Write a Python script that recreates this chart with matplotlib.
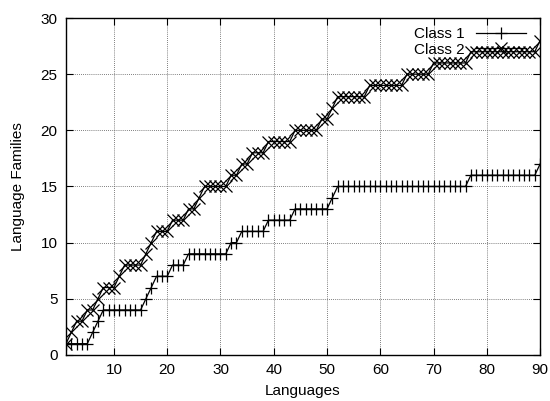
import numpy as np
import matplotlib
matplotlib.use("Agg")
import matplotlib.pyplot as plt

plt.rcParams['font.family'] = ['Liberation Sans', 'DejaVu Sans']

languages = np.arange(1, 91)

# step values, as (value, repeat count)
class1_runs = [(1, 5), (2, 1), (3, 1), (4, 8), (5, 1), (6, 1), (7, 3), (8, 3),
               (9, 8), (10, 2), (11, 5), (12, 5), (13, 7), (14, 1), (15, 25),
               (16, 13), (17, 1)]
class2_runs = [(1, 1), (2, 1), (3, 2), (4, 2), (5, 1), (6, 3), (7, 1), (8, 4),
               (9, 1), (10, 1), (11, 3), (12, 3), (13, 2), (14, 1), (15, 5),
               (16, 2), (17, 2), (18, 3), (19, 5), (20, 5), (21, 2), (22, 1),
               (23, 6), (24, 7), (25, 5), (26, 7), (27, 13), (28, 1)]

class1 = np.concatenate([[v] * n for v, n in class1_runs])
class2 = np.concatenate([[v] * n for v, n in class2_runs])

FS = 11

fig = plt.figure(figsize=(5.5, 4.01), dpi=100)
ax = fig.add_axes([0.12, 0.115, 0.862, 0.84])

ax.plot(languages, class1, color='black', lw=0.9, marker='+', ms=8,
        mew=0.9, label='Class 1')
ax.plot(languages, class2, color='black', lw=0.9, marker='x', ms=8.5,
        mew=0.9, label='Class 2')

ax.set_xlim(1, 90)
ax.set_ylim(0, 30)
ax.set_xticks(np.arange(10, 91, 10))
ax.set_yticks(np.arange(0, 31, 5))
ax.tick_params(direction='in', top=True, right=True, labelsize=FS,
               length=5, width=0.8, pad=6)
ax.grid(True, color='#555555', linestyle=(0, (1, 1.5)), lw=0.6)
for s in ax.spines.values():
    s.set_linewidth(1.0)

ax.set_xlabel('Languages', fontsize=FS, labelpad=5)
ax.set_ylabel('Language Families', fontsize=FS, labelpad=11)

ax.legend(loc='upper right', bbox_to_anchor=(0.99, 1.0), frameon=False,
          markerfirst=False, fontsize=FS, handlelength=3.3, borderaxespad=0.2,
          labelspacing=0.1, handletextpad=0.7)

fig.savefig('out.png', dpi=100)
